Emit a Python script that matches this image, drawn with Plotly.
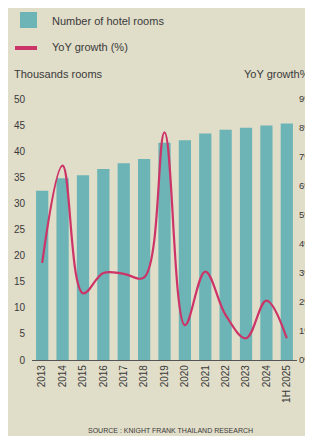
import plotly.graph_objects as go

years = ["2013", "2014", "2015", "2016", "2017", "2018", "2019",
         "2020", "2021", "2022", "2023", "2024", "1H 2025"]
rooms_k = [32.4, 34.8, 35.4, 36.6, 37.7, 38.5, 41.6,
           42.1, 43.4, 44.1, 44.5, 44.9, 45.3]
yoy_pct = [3.35, 6.7, 2.3, 3.0, 2.97, 2.85, 7.85,
           1.2, 3.05, 1.55, 0.75, 2.05, 0.75]
left_ticks = [0, 5, 10, 15, 20, 25, 30, 35, 40, 45, 50]
right_ticks = [0, 1, 2, 3, 4, 5, 6, 7, 8, 9]
right_labels = [f"{t}%" for t in right_ticks]

# page body has an 8px margin: the figure sits at (8, 8) in the window
OFF = 8
W, H = 313 - OFF, 436 - OFF
L = 32 - OFF
T = 99 - OFF
R = W - (297 - OFF)
B = H - (360 - OFF)
PW = W - L - R
PH = H - T - B

def px(x):
    return (x - OFF - L) / PW

def py(y):
    return (H - B - (y - OFF)) / PH

BG = "#e0ddc9"
TEAL = "#6cb4b6"
RED = "#cc3467"
TXT = "#3a3a3a"
FONT = "Liberation Sans, Arial, sans-serif"

fig = go.Figure()
fig.add_trace(go.Bar(x=years, y=rooms_k, marker=dict(color=TEAL, line=dict(width=0)),
                     yaxis="y", showlegend=False, hoverinfo="skip"))
fig.add_trace(go.Scatter(x=years, y=yoy_pct, mode="lines",
                         line=dict(color=RED, width=2.2, shape="spline", smoothing=1.05),
                         yaxis="y2", showlegend=False, hoverinfo="skip"))

shapes = [
    dict(type="rect", xref="paper", yref="paper", x0=px(20), x1=px(37), y0=py(28), y1=py(12),
         fillcolor=TEAL, line=dict(width=0)),
    dict(type="line", xref="paper", yref="paper", x0=px(15), x1=px(37), y0=py(48), y1=py(48),
         line=dict(color=RED, width=4)),
]

annotations = [
    dict(text="Number of hotel rooms", x=px(50), y=py(21), xref="paper", yref="paper",
         xanchor="left", yanchor="middle", showarrow=False, font=dict(size=11, color=TXT, family=FONT)),
    dict(text="YoY growth (%)", x=px(50), y=py(47), xref="paper", yref="paper",
         xanchor="left", yanchor="middle", showarrow=False, font=dict(size=11, color=TXT, family=FONT)),
    dict(text="Thousands rooms", x=px(12), y=py(74), xref="paper", yref="paper",
         xanchor="left", yanchor="middle", showarrow=False, font=dict(size=11, color=TXT, family=FONT)),
    dict(text="YoY growth%", x=px(312), y=py(74), xref="paper", yref="paper",
         xanchor="right", yanchor="middle", showarrow=False, font=dict(size=11, color=TXT, family=FONT)),
    dict(text="SOURCE : KNIGHT FRANK THAILAND RESEARCH", x=px(86), y=py(430), xref="paper", yref="paper",
         xanchor="left", yanchor="middle", showarrow=False, font=dict(size=7, color=TXT, family=FONT)),
]

fig.update_layout(
    width=W, height=H,
    margin=dict(l=L, r=R, t=T, b=B, pad=0, autoexpand=False),
    paper_bgcolor=BG, plot_bgcolor=BG,
    bargap=0.4,
    font=dict(family=FONT, color=TXT, size=10),
    xaxis=dict(type="category", showgrid=False, tickangle=-90, ticks="", automargin=False,
               tickfont=dict(size=10, color=TXT), showline=True, linecolor="#555", linewidth=1.2,
               zeroline=False, fixedrange=True),
    yaxis=dict(range=[0, 50], tickvals=left_ticks, showgrid=False, zeroline=False, automargin=False,
               showline=False, ticks="", ticklabelstandoff=6,
               tickfont=dict(size=10, color=TXT)),
    yaxis2=dict(range=[0, 9], tickvals=right_ticks, ticktext=right_labels, overlaying="y",
                side="right", showgrid=False, zeroline=False, showline=False, ticks="", automargin=False,
                ticklabelstandoff=1, tickfont=dict(size=9.5, color=TXT)),
    shapes=shapes, annotations=annotations,
)

fig.write_html("out.html")
